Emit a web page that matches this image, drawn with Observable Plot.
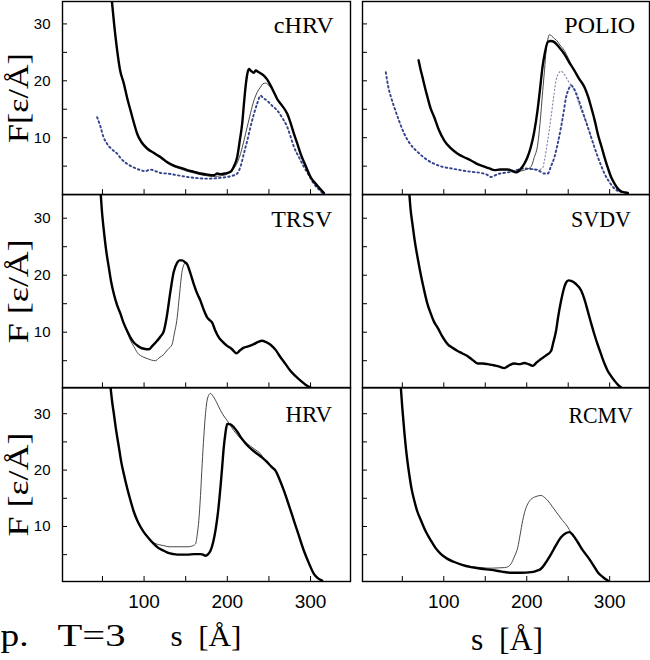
<!DOCTYPE html>
<html><head><meta charset="utf-8">
<script src="https://cdn.jsdelivr.net/npm/d3@7"></script>
<script src="https://cdn.jsdelivr.net/npm/@observablehq/plot@0.6"></script>
<style>
body{margin:0;background:#fff;}
#chart{position:relative;width:650px;height:660px;overflow:hidden;background:#fff;}
#chart svg{position:absolute;overflow:visible;}
</style></head><body><div id="chart"></div>
<script>
// ---------- data (s [Å], F [ε/Å]) ----------
const panelNames = ["cHRV", "POLIO", "TRSV", "SVDV", "HRV", "RCMV"];
const xTicks = [50, 100, 150, 200, 250, 300];
const xLabels = [100, 200, 300];
const yTicks = [5, 10, 15, 20, 25, 30];
const yLabels = [10, 20, 30];
const yTitles = ["F[ε/Å]", "F [ε/Å]", "F [ε/Å]"];
const xTitle = "s\u2002[Å]";
const plateLabel = ["p.", "T=3"];

const cHRV_thick = [[61,34.5],[64,30],[67.7,25.3],[71,22],[75.7,19.5],[80,16.8],[83.7,14.8],[88,12.5],[91.7,10.7],[97,9.2],[103.7,8.1],[112,7.3],[119.7,6.6],[128,5.7],[135.8,5.1],[144,4.7],[151.8,4.3],[160,4.0],[167.8,3.7],[176,3.5],[183.8,3.4],[188,3.7],[191.8,3.6],[197,3.7],[203.8,4.0],[208,5.0],[211.9,6.6],[215,9.5],[217.9,12.5],[220,16],[221.9,18.9],[224,21.2],[225.9,22.1],[228,21.8],[231.9,21.4],[234,21.8],[237.9,21.5],[243.9,20.9],[248,20.2],[251.9,19.2],[256,18],[259.9,16.8],[266,15.6],[272,14.2],[276,12.6],[280,10.7],[284,9],[288,7.2],[294,5.1],[300,3.1],[308,1.6],[316,0.3]];
const cHRV_thinMid = [[97,9.3],[103.7,8.2],[112,7.2],[119.7,6.4],[128,5.5],[135.8,4.9],[144,4.5],[151.8,4.1],[160,3.8],[167.8,3.5],[176,3.3],[183.8,3.2],[191.8,3.3],[200,3.6],[207.8,4.6],[212,5.6],[215.9,7.2],[220,9.5],[223.9,11.9],[228,14.4],[231.9,16.5],[236,18],[239.9,18.9],[243,19.5],[245.9,19.6],[249,19.3],[251.9,18.9],[256,17.9],[259.9,16.9]];
const cHRV_dot = [[43.6,13.6],[47.7,11.9],[51,10.2],[55.7,8.9],[61,8],[67.7,7.2],[73,6.2],[79.7,5.4],[87,4.8],[95.7,4.3],[101,4.1],[107.7,4.4],[114,4.1],[120,3.8],[127.7,3.7],[140,3.4],[151.8,3.1],[164,2.9],[175.8,2.8],[188,2.9],[199.8,3.1],[206,3.3],[211.9,3.7],[216,5],[219.9,7.2],[224,9.5],[227.9,11.9],[232,14.2],[235.9,16.0],[239.9,17.4],[243,17],[247.9,16.5],[254,15.6],[259.9,14.8],[266,13.5],[272,11.9],[276,10.2],[280,8.4],[286,6.6],[292,4.9],[298,3.4],[304,1.9],[310,0.9],[314,0.3]];

const POLIO_thick = [[69.6,23.6],[72,22],[74.4,20.6],[77,19],[80.4,17.1],[84,15.2],[88.5,13.6],[94,11.4],[100.6,9.5],[108,8.2],[116.7,7.2],[124,6.6],[132.8,6.0],[140,5.4],[148.9,4.9],[155,4.6],[161,4.3],[168,4.4],[177,4.4],[182,4.2],[187,3.9],[192,4.4],[197,5.4],[201,6.6],[205,8.4],[209,11],[213,14.8],[216,18.5],[219,22.4],[222,25],[225.3,26.8],[229,27.0],[233.3,26.8],[239,25.9],[245.4,24.7],[251,23.3],[257.5,21.8],[263,20.4],[269.5,18.9],[274,17.2],[277.6,15.4],[282,13],[285.6,10.7],[290,8.5],[293.7,6.6],[298,4.6],[301.7,3.1],[306,1.9],[309.8,1.05],[315,0.5],[321.9,0.3]];
const POLIO_thinMid = [[192,4.1],[197,4.3],[201,4.5],[205.2,4.9],[209,6.5],[213.3,8.9],[216,12.5],[219.3,18.3],[221.5,22],[223.3,25.3],[225.3,27.2],[227.3,28.1],[230,27.9],[233.4,27.4],[235.4,27.2],[240,26.3],[245.4,25.3],[250,24],[253.5,22.9]];
const POLIO_dot = [[30.1,21.5],[33,19],[36,17.3],[40.2,15.4],[46,13],[52.3,10.7],[60,8.8],[68.4,7.5],[78,6.3],[88.6,5.4],[98,4.9],[108.7,4.6],[120,4.3],[132.9,4.0],[145,3.8],[152,3.5],[157,3.1],[165,3.6],[172,3.8],[181.1,4.0],[190,4.4],[197.2,4.6],[205,4.5],[213.3,4.3],[221.3,3.7],[225.3,3.7],[229.3,5.0],[233.4,6.6],[237.4,9.0],[241.4,11.9],[244.5,14.5],[247.4,17.1],[250.5,18.5],[253.5,19.2],[257,18.6],[261.5,17.1],[265.5,15.4],[269.6,13.6],[273.6,11.9],[277.6,10.1],[281.7,8.3],[285.7,6.6],[289.7,5.1],[293.7,3.7],[299.7,2.2],[305.8,1.05],[313,0.5],[321.9,0.3]];
const POLIO_dotLight = [[181,4.0],[190,4.4],[197.2,4.6],[205,4.5],[213.3,4.4],[219,4.6],[221.3,6.0],[225.3,9.5],[229.3,13.6],[232.5,17.2],[235.4,20.1],[238,21.2],[241.4,21.7],[244.5,21.3],[249.5,20.1],[253.5,19.2],[257.5,18.3],[261.5,16.6],[265.6,14.8],[269.6,13.6],[273.6,11.9],[277.6,10.1]];

const TRSV_thick = [[47.7,34.8],[49.5,31],[51.7,27.8],[54.5,24.3],[57.7,21.3],[60.5,18.8],[63.7,16.7],[67.5,14.8],[71.7,13.2],[75.5,11.6],[79.7,10.2],[83.5,9.1],[87.7,8.2],[91.5,7.7],[95.7,7.3],[100,7.1],[105.7,7.0],[110,7.6],[115.7,8.5],[119.5,9.2],[123.7,10.2],[127,12.5],[131.8,17.3],[135.5,20.5],[139.8,22.2],[142.5,22.6],[145.8,22.6],[149,22.3],[151.8,21.9],[155.5,20.4],[159.8,18.4],[163.5,16.9],[167.8,15.5],[171.5,14],[175.8,12.6],[179,12.1],[181.8,11.7],[185.5,10.3],[189.8,9.1],[194.5,8.3],[199.8,7.6],[205,7.1],[211.1,6.3],[215,6.8],[219.9,7.3],[225,7.5],[231.9,7.9],[237,8.3],[241.9,8.5],[246,8.3],[251.9,7.8],[258,6.9],[263.9,5.6],[270,4.4],[276,3.2],[282,2.3],[288,1.5],[294,0.8],[300,0.3]];
const TRSV_thinMid = [[79.7,10.0],[83.5,8.6],[87.7,7.5],[92,6.4],[95.7,5.9],[99.7,5.6],[105,5.3],[109,5.1],[113.7,5.0],[118,5.5],[123.7,6.1],[128,6.9],[133.8,7.9],[136,9.5],[139.8,12.6],[142.5,16.5],[145.8,20.8],[149.8,22.2]];

const SVDV_thick = [[58.2,34.8],[60,31.5],[62.3,28.9],[65,26],[68.4,23.1],[72,20.3],[76.4,17.3],[80,15.1],[84.5,13.2],[88,11.9],[92.5,10.8],[98,9.3],[104.6,7.9],[110,7.3],[116.7,6.7],[122,6.3],[128.8,5.8],[135,5.1],[140.8,4.5],[147,4.5],[152.9,4.4],[160,4.2],[166,4.0],[173,3.7],[179,4.2],[185.1,4.5],[191,4.4],[197.1,4.6],[202,4.4],[207.2,4.1],[212,4.7],[217.2,5.3],[223,5.9],[229.3,6.7],[232,8.2],[235.3,10.2],[238,12.8],[241.4,15.5],[244.5,17.5],[247.4,18.7],[250.5,19.1],[253.5,19.0],[259,18.5],[265.6,17.3],[269.5,15.8],[273.6,13.7],[277.6,11.6],[281.6,9.6],[285.6,7.8],[289.7,6.1],[293.7,4.5],[297.7,3.2],[301.7,2.3],[305.8,1.5],[309.8,0.8],[313.8,0.3]];

const HRV_thick = [[59.7,34.7],[61.5,32.3],[63.7,30],[66.5,27],[69.7,24.1],[72.5,21.5],[75.7,19.3],[79.5,16.9],[83.7,14.6],[87.5,12.7],[91.7,11.1],[95.5,10],[99.7,9],[105,8],[111.7,6.9],[117,6.2],[123.7,5.7],[129,5.3],[135.8,5.1],[143,5.0],[151.8,5.0],[160,5.1],[167.8,5.1],[171,5.0],[173.8,4.8],[177,5.1],[179.8,5.7],[183,7.2],[185.8,9.3],[188.8,12.5],[191.8,17.0],[193.8,20.5],[195.8,24.1],[197.8,26.6],[199.8,28.2],[203.8,28.1],[207.8,27.6],[212,26.8],[215.9,25.9],[219.9,25.1],[223.9,24.4],[229.9,23.6],[235.9,22.9],[241.9,22.2],[247.9,21.4],[252.9,20.6],[257.9,19.9],[262.9,18.3],[267.9,16.4],[273.9,13.8],[279.9,11.1],[285.9,8.4],[292,5.7],[298,3.5],[304,1.6],[309,0.8],[314,0.4]];
const HRV_thinMid = [[111.7,7.1],[117,6.8],[123.7,6.6],[130,6.4],[135.8,6.4],[143,6.4],[151.8,6.4],[157,6.5],[161.8,6.9],[163.8,8.5],[165.8,11.1],[167.8,15.5],[169.8,21.1],[171.8,26],[173.8,30],[176.8,33],[179.8,33.6],[182.8,33.1],[185.8,32.4],[188.8,31.5],[191.8,30.6],[195.8,29.6],[199.8,28.8],[203.8,27.9],[207.8,27],[211.8,26.3],[215.9,25.6],[223.9,24.7],[231.9,23.8],[235.9,23.4],[239.9,22.9],[244,22]];

const RCMV_thick = [[48.2,34.7],[50,31],[52.3,27],[55,23],[58.3,19.3],[61,16.8],[64.4,14.6],[68,12.7],[72.4,11.1],[78,9.2],[84.5,7.5],[90,6.2],[96.6,5.1],[104,4.3],[112.7,3.7],[122,3.2],[132.8,2.8],[145,2.5],[157,2.3],[170,2.0],[181.1,1.8],[193,1.8],[205.2,1.9],[211,2.1],[217.2,2.5],[223,3.6],[229.3,5.1],[235,6.6],[241.4,8.1],[246,8.7],[251.5,9.0],[256,8.4],[261.5,7.2],[267,5.9],[273.6,4.6],[280,3.2],[285.6,1.9],[292,1.0],[297.7,0.4]];
const RCMV_thinMid = [[124.8,3.1],[132.8,2.9],[145,2.7],[157,2.6],[165,2.65],[173,2.7],[178,2.9],[181.1,3.4],[185,4.6],[189.2,6.3],[192,8.5],[195.2,11.1],[198,12.8],[201.2,14.0],[205,14.8],[209.3,15.2],[213,15.4],[217.3,15.5],[221,15.2],[225.3,14.6],[231,13.5],[237.4,12.2],[243,11.1],[249.5,9.9],[253,9.0]];

// a thin curve follows the thick one except where its own points are given
function spliceCurve(base, mid) {
  const a = mid[0][0], b = mid[mid.length - 1][0];
  return base.filter(d => d[0] < a).concat(mid, base.filter(d => d[0] > b));
}

// ---------- layout ----------
const colLeft = [62, 361.5], colRight = [350, 648.5];
const rowTop = [0.5, 193.6, 387], rowBottom = [193.6, 387, 581];
const xDomain = [2, 348];
const yDomains = [[0, 33.94], [0.23, 34.16], [0.24, 34.65]];
const serif = "'Liberation Serif','DejaVu Serif',serif";
const sans = "'Liberation Sans',Arial,sans-serif";

const STY = {
  thick: {stroke: "#000", strokeWidth: 2.4},
  thin: {stroke: "#333", strokeWidth: 0.9},
  dot: {stroke: "#34438c", strokeWidth: 1.9, strokeDasharray: "1.6,3"},
  dotLight: {stroke: "#7c84aa", strokeWidth: 1.1, strokeDasharray: "1.3,2.4"}
};

const panels = [
  {name: panelNames[0], col: 0, row: 0, dx: -16.7, base: 32, len: 60, series: [["dot", cHRV_dot], ["thin", spliceCurve(cHRV_thick, cHRV_thinMid)], ["thick", cHRV_thick]]},
  {name: panelNames[1], col: 1, row: 0, dx: -14.5, base: 32, len: 70.7, series: [["dotLight", POLIO_dotLight], ["dot", POLIO_dot], ["thin", spliceCurve(POLIO_thick, POLIO_thinMid)], ["thick", POLIO_thick]]},
  {name: panelNames[2], col: 0, row: 1, dx: -18.3, base: 32.4, len: 61, series: [["thin", spliceCurve(TRSV_thick, TRSV_thinMid)], ["thick", TRSV_thick]]},
  {name: panelNames[3], col: 1, row: 1, dx: -18.5, base: 32.4, len: 60, series: [["thick", SVDV_thick]]},
  {name: panelNames[4], col: 0, row: 2, dx: -18.3, base: 34.7, len: 46.7, series: [["thin", spliceCurve(HRV_thick, HRV_thinMid)], ["thick", HRV_thick]]},
  {name: panelNames[5], col: 1, row: 2, dx: -16.8, base: 35.7, len: 64.3, series: [["thin", spliceCurve(RCMV_thick, RCMV_thinMid)], ["thick", RCMV_thick]]}
];

function fit(svg, str, len) {
  d3.select(svg).selectAll("text").filter(function () { return this.textContent === str; })
    .attr("textLength", len).attr("lengthAdjust", "spacingAndGlyphs");
}

const chart = document.getElementById("chart");
for (const p of panels) {
  const left = colLeft[p.col], right = colRight[p.col];
  const top = rowTop[p.row], bottom = rowBottom[p.row];
  const W = right - left, H = bottom - top;
  const mL = p.col === 0 ? left : 3, mR = 3, mT = 3;
  const mB = p.row === 2 ? 660 - bottom : 3;
  const marks = [];
  for (const [k, pts] of p.series) {
    marks.push(Plot.line(pts, {x: d => d[0], y: d => d[1], curve: "monotone-x", clip: true, ...STY[k]}));
  }
  marks.push(Plot.ruleX(xTicks, {x: d => d, insetTop: H - 5, stroke: "#000", strokeWidth: 1}));
  marks.push(Plot.ruleY(yTicks, {y: d => d, insetRight: W - 5, stroke: "#000", strokeWidth: 1}));
  marks.push(Plot.frame({stroke: "#000", strokeWidth: 1.4}));
  marks.push(Plot.text([p.name], {frameAnchor: "top-right", textAnchor: "end", lineAnchor: "bottom", dx: p.dx, dy: p.base, fontSize: 23, fontFamily: serif, fill: "#000"}));
  if (p.col === 0) {
    marks.push(Plot.text(yLabels, {y: d => d, frameAnchor: "left", textAnchor: "end", dx: -12, fontSize: 15, fontFamily: sans, fill: "#000"}));
    marks.push(Plot.text([yTitles[p.row]], {frameAnchor: "left", textAnchor: "middle", rotate: -90, dx: -44.6, fontSize: 30, fontFamily: serif, fill: "#000"}));
  }
  if (p.row === 2) {
    marks.push(Plot.text(xLabels, {x: d => d, frameAnchor: "bottom", lineAnchor: "bottom", dy: 26, fontSize: 19, fontFamily: sans, fill: "#000"}));
    if (p.col === 0) {
      marks.push(Plot.text([plateLabel[0]], {frameAnchor: "bottom-left", textAnchor: "start", lineAnchor: "bottom", dx: -left, dy: 64, fontSize: 32, fontFamily: serif, fill: "#000"}));
      marks.push(Plot.text([plateLabel[1]], {frameAnchor: "bottom-left", textAnchor: "start", lineAnchor: "bottom", dx: 57 - left, dy: 64, fontSize: 32, fontFamily: serif, fill: "#000"}));
      marks.push(Plot.text([xTitle], {frameAnchor: "bottom-left", textAnchor: "start", lineAnchor: "bottom", dx: 170 - left, dy: 64, fontSize: 29, fontFamily: serif, fill: "#000"}));
    } else {
      marks.push(Plot.text([xTitle], {frameAnchor: "bottom-left", textAnchor: "start", lineAnchor: "bottom", dx: 470 - left, dy: 68, fontSize: 32, fontFamily: serif, fill: "#000"}));
    }
  }
  const svg = Plot.plot({
    width: W + mL + mR, height: H + mT + mB,
    marginLeft: mL, marginRight: mR, marginTop: mT, marginBottom: mB,
    x: {domain: xDomain, axis: null},
    y: {domain: yDomains[p.row], axis: null},
    style: {background: "transparent", overflow: "visible"},
    marks
  });
  svg.style.left = (left - mL) + "px";
  svg.style.top = (top - mT) + "px";
  fit(svg, p.name, p.len);
  if (p.col === 0) fit(svg, yTitles[p.row], p.row === 0 ? 90 : 104);
  if (p.row === 2 && p.col === 0) { fit(svg, plateLabel[0], 28); fit(svg, plateLabel[1], 68); fit(svg, xTitle, 71); }
  if (p.row === 2 && p.col === 1) fit(svg, xTitle, 72);
  chart.appendChild(svg);
}
</script></body></html>
